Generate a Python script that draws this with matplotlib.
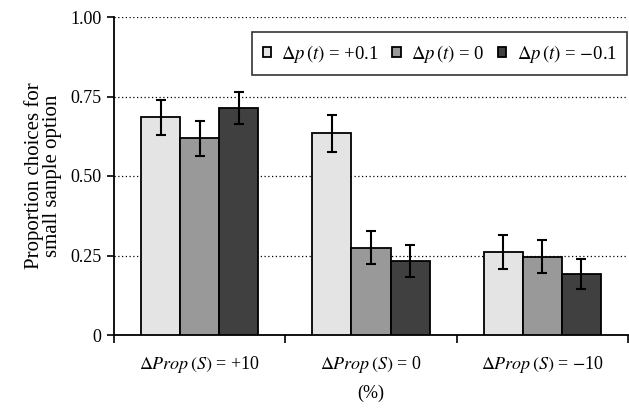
import matplotlib
matplotlib.use("Agg")
import matplotlib.pyplot as plt
import numpy as np

plt.rcParams['font.family'] = ['Liberation Serif', 'DejaVu Serif']
plt.rcParams['mathtext.fontset'] = 'stix'

categories = [r'$\Delta Prop\,(S)$ = +10', r'$\Delta Prop\,(S)$ = 0', r'$\Delta Prop\,(S)$ = $-$10']
series_names = [r'$\Delta p\,(t)$ = +0.1', r'$\Delta p\,(t)$ = 0', r'$\Delta p\,(t)$ = $-$0.1']
values = {
    'plus': [0.684, 0.634, 0.262],
    'zero': [0.618, 0.274, 0.246],
    'minus': [0.713, 0.233, 0.192],
}
errors = {
    'plus': [0.054, 0.057, 0.053],
    'zero': [0.055, 0.052, 0.052],
    'minus': [0.050, 0.050, 0.047],
}
colors = ['#e4e4e4', '#999999', '#404040']
yticks = [0, 0.25, 0.50, 0.75, 1.00]
ytick_labels = ['0', '0.25', '0.50', '0.75', '1.00']

fig = plt.figure(figsize=(6.29, 4.08), dpi=100)
ax = fig.add_axes([114/629, 1-335/408, (628-114)/629, (335-17)/408])

x = np.arange(len(categories))
w = 0.228
for i, key in enumerate(['plus', 'zero', 'minus']):
    ax.bar(x + (i-1)*w, values[key], w, color=colors[i], edgecolor='black',
           linewidth=1.3, label=series_names[i], zorder=3)
    ax.errorbar(x + (i-1)*w, values[key], yerr=errors[key], fmt='none',
                ecolor='black', elinewidth=1.5, capsize=3.6, capthick=1.5, zorder=4)

ax.set_xlim(-0.5, 2.5)
ax.set_ylim(0, 1.0)
ax.set_yticks(yticks)
ax.set_yticklabels(ytick_labels, fontsize=13)
ax.yaxis.grid(True, linestyle=(0, (1, 2)), color='black', linewidth=0.9, zorder=0)
ax.set_xticks(x)
ax.set_xticklabels(categories, fontsize=13)
ax.tick_params(axis='x', which='major', length=0, pad=14)
ax.set_xticks([-0.5, 0.5, 1.5, 2.5], minor=True)
ax.tick_params(axis='x', which='minor', length=6, width=1.2, direction='out')
ax.tick_params(axis='y', length=5, width=1.2, direction='out', pad=4)
for s in ['top', 'right']:
    ax.spines[s].set_visible(False)
for s in ['left', 'bottom']:
    ax.spines[s].set_linewidth(1.3)
ax.set_xlabel('(%)', fontsize=13, labelpad=7)
ax.set_ylabel('Proportion choices for\nsmall sanple option', fontsize=15, labelpad=6, linespacing=0.95)

leg = ax.legend(loc='upper right', bbox_to_anchor=(0.998, 0.952), borderaxespad=0,
                ncol=3, fontsize=13.5,
                frameon=True, fancybox=False, edgecolor='black', handlelength=0.45,
                handleheight=0.45, handletextpad=0.55, columnspacing=0.7, borderpad=0.55)
leg.get_frame().set_linewidth(1.2)

fig.savefig('out.png', dpi=100)
